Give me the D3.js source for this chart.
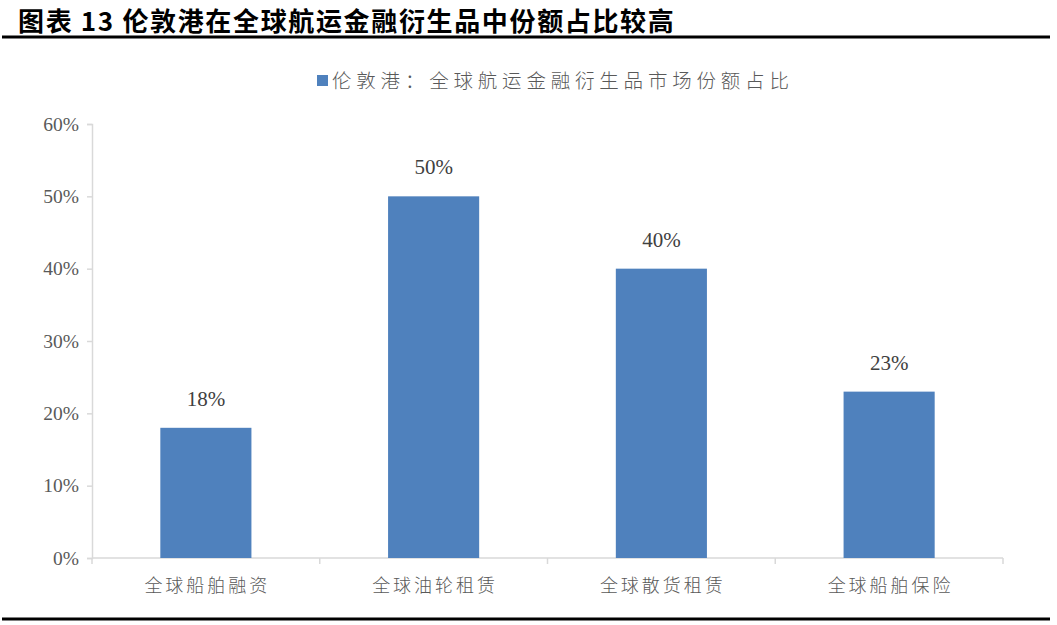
<!DOCTYPE html>
<html>
<head>
<meta charset="utf-8">
<script src="https://cdn.jsdelivr.net/npm/d3@7/dist/d3.min.js"></script>
<style>
  body { margin: 0; background: #fff; }
  svg { display: block; }
</style>
</head>
<body>
<svg id="chart" width="1057" height="625"></svg>
<script>
const title = "图表 13 伦敦港在全球航运金融衍生品中份额占比较高";
const seriesName = "伦敦港：全球航运金融衍生品市场份额占比";
const categories = ["全球船舶融资", "全球油轮租赁", "全球散货租赁", "全球船舶保险"];
const shares = [0.18, 0.50, 0.40, 0.23];
const yTicks = [0, 0.1, 0.2, 0.3, 0.4, 0.5, 0.6];

const svg = d3.select("#chart");
const margin = { left: 92, right: 54, top: 124, bottom: 67 };
const width = +svg.attr("width");
const height = +svg.attr("height");

// title and rules
svg.append("text")
    .attr("x", 18)
    .attr("y", 31)
    .attr("font-family", "'Noto Sans CJK SC'")
    .attr("font-weight", 700)
    .attr("font-size", 26)
    .attr("letter-spacing", 1.65)
    .attr("fill", "#000")
    .text(title);

svg.append("rect").attr("x", 2).attr("y", 35.5).attr("width", 1048).attr("height", 3).attr("fill", "#000");
svg.append("rect").attr("x", 2).attr("y", 617.5).attr("width", 1048).attr("height", 3).attr("fill", "#000");

const x = d3.scaleBand()
    .domain(categories)
    .range([margin.left, width - margin.right])
    .paddingInner(0.6)
    .paddingOuter(0.3);

const y = d3.scaleLinear()
    .domain([0, 0.6])
    .range([height - margin.bottom, margin.top]);

// y axis
const yAxis = svg.append("g")
    .attr("transform", `translate(${margin.left},0)`)
    .call(d3.axisLeft(y).tickValues(yTicks).tickFormat(d3.format(".0%")).tickSize(5).tickPadding(8));
yAxis.select(".domain").attr("stroke", "#d9d9d9").attr("stroke-width", 1.5);
yAxis.selectAll(".tick line").attr("stroke", "#d9d9d9").attr("stroke-width", 1.5);
yAxis.selectAll(".tick text")
    .attr("font-family", "'Liberation Serif'")
    .attr("font-size", 19.5)
    .attr("fill", "#595959");

// x axis with category boundary ticks
const xAxisG = svg.append("g").attr("transform", `translate(0,${y(0)})`);
xAxisG.append("line")
    .attr("x1", margin.left).attr("x2", width - margin.right)
    .attr("stroke", "#d9d9d9").attr("stroke-width", 1.5);
const step = x.step();
const bounds = d3.range(categories.length + 1).map(i => x(categories[0]) - x.paddingOuter() * step + i * step);
xAxisG.selectAll("line.bound")
    .data(bounds)
    .enter().append("line")
    .attr("class", "bound")
    .attr("x1", d => d).attr("x2", d => d)
    .attr("y1", 0).attr("y2", 6)
    .attr("stroke", "#d9d9d9").attr("stroke-width", 1.5);

xAxisG.selectAll("text.cat")
    .data(categories)
    .enter().append("text")
    .attr("class", "cat")
    .attr("x", d => x(d) + x.bandwidth() / 2 + 1.5)
    .attr("y", 34)
    .attr("text-anchor", "middle")
    .attr("font-family", "'Noto Sans CJK SC'")
    .attr("font-weight", 300)
    .attr("font-size", 18)
    .attr("letter-spacing", 3)
    .attr("fill", "#595959")
    .text(d => d);

// bars
svg.selectAll("rect.bar")
    .data(shares)
    .enter().append("rect")
    .attr("class", "bar")
    .attr("x", (d, i) => x(categories[i]))
    .attr("y", d => y(d))
    .attr("width", x.bandwidth())
    .attr("height", d => y(0) - y(d))
    .attr("fill", "#4f81bd");

// value labels
svg.selectAll("text.val")
    .data(shares)
    .enter().append("text")
    .attr("class", "val")
    .attr("x", (d, i) => x(categories[i]) + x.bandwidth() / 2)
    .attr("y", d => y(d) - 22)
    .attr("text-anchor", "middle")
    .attr("font-family", "'Liberation Serif'")
    .attr("font-size", 21)
    .attr("fill", "#404040")
    .text(d => d3.format(".0%")(d));

// legend
const legend = svg.append("g").attr("transform", "translate(317,75)");
legend.append("rect").attr("width", 11).attr("height", 11).attr("fill", "#4f81bd");
legend.append("text")
    .attr("x", 15)
    .attr("y", 6)
    .attr("dy", "0.35em")
    .attr("font-family", "'Noto Sans CJK SC'")
    .attr("font-weight", 300)
    .attr("font-size", 19.5)
    .attr("letter-spacing", 4.8)
    .attr("fill", "#595959")
    .text(seriesName);
</script>
</body>
</html>
